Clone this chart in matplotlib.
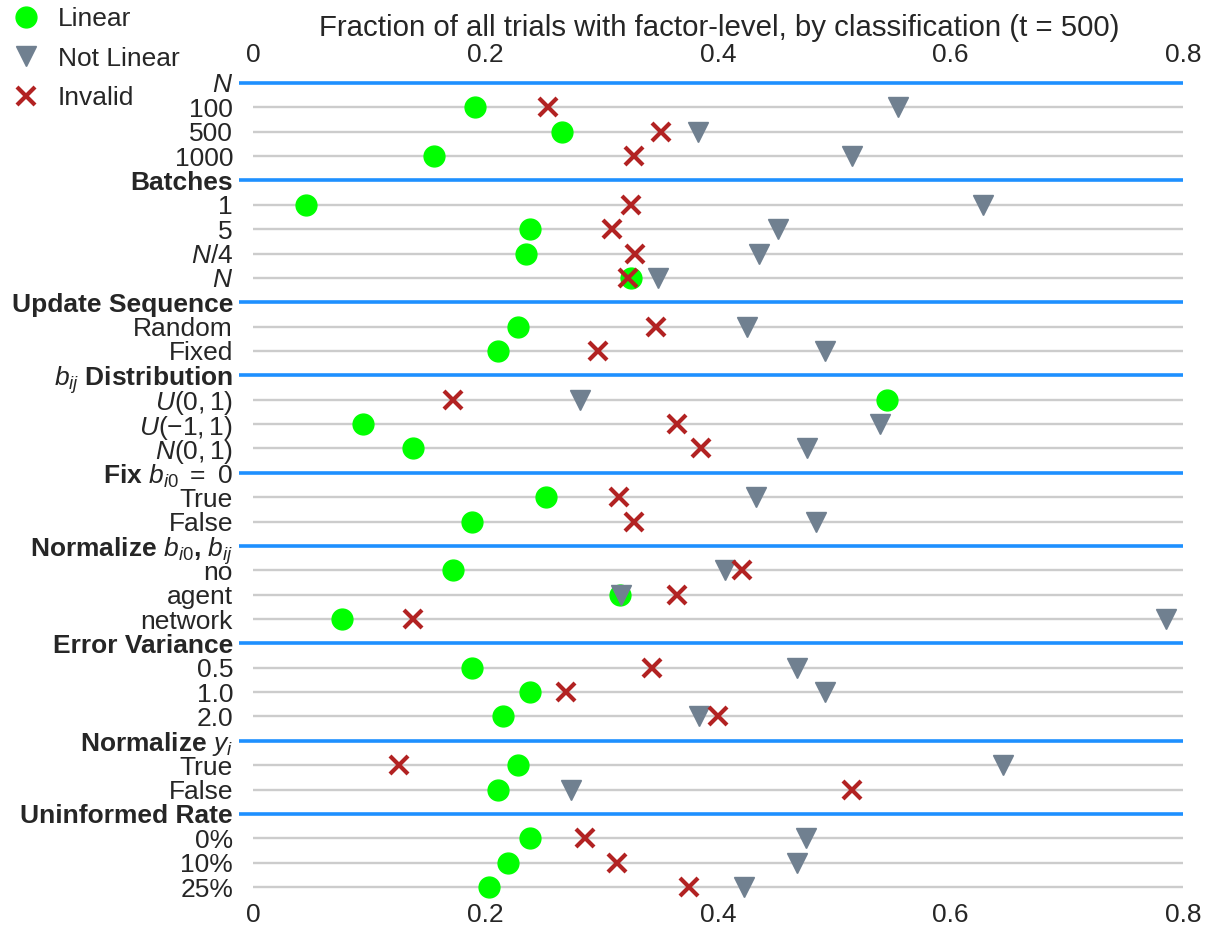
import matplotlib
matplotlib.use('Agg')
import matplotlib.pyplot as plt
from matplotlib.lines import Line2D
import numpy as np

factors = [r'$N$', 'Batches', 'Update Sequence', r'$b_{ij}$ Distribution',
           r'Fix $b_{i0}\ =\ 0$', r'Normalize $b_{i0}$, $b_{ij}$', 'Error Variance',
           r'Normalize $y_i$', 'Uninformed Rate']
levels = [['100', '500', '1000'],
          ['1', '5', r'$N/4$', r'$N$'],
          ['Random', 'Fixed'],
          [r'$U(0, 1)$', r'$U(-1, 1)$', r'$N(0, 1)$'],
          ['True', 'False'],
          ['no', 'agent', 'network'],
          ['0.5', '1.0', '2.0'],
          ['True', 'False'],
          ['0%', '10%', '25%']]

linear = [0.191, 0.266, 0.156,
          0.046, 0.238, 0.235, 0.325,
          0.228, 0.211,
          0.545, 0.095, 0.138,
          0.252, 0.188,
          0.172, 0.316, 0.077,
          0.188, 0.238, 0.215,
          0.228, 0.211,
          0.238, 0.219, 0.203]
not_linear = [0.555, 0.383, 0.515,
              0.628, 0.452, 0.435, 0.348,
              0.425, 0.492,
              0.281, 0.539, 0.477,
              0.433, 0.484,
              0.406, 0.317, 0.785,
              0.468, 0.492, 0.384,
              0.645, 0.274,
              0.476, 0.468, 0.422]
invalid = [0.254, 0.351, 0.328,
           0.325, 0.309, 0.329, 0.323,
           0.347, 0.297,
           0.172, 0.365, 0.385,
           0.315, 0.328,
           0.421, 0.365, 0.138,
           0.343, 0.269, 0.400,
           0.126, 0.515,
           0.286, 0.313, 0.375]

xticks = [0, 0.2, 0.4, 0.6, 0.8]
xticklabels = ['0', '0.2', '0.4', '0.6', '0.8']

plt.rcParams['font.family'] = ['Liberation Sans', 'DejaVu Sans']
plt.rcParams['mathtext.fontset'] = 'custom'
plt.rcParams['mathtext.rm'] = 'Liberation Sans'
plt.rcParams['mathtext.it'] = 'Liberation Sans:italic'
plt.rcParams['mathtext.bf'] = 'Liberation Sans:bold'

txt = '#262626'
c_lin = '#00ff00'
c_nl = '#708090'
c_inv = '#b22222'
c_head = '#1e90ff'
c_row = '#cccccc'
fs = 19

# build row order: header then its levels
labels, is_head = [], []
for f, lv in zip(factors, levels):
    labels.append(f)
    is_head.append(True)
    for l in lv:
        labels.append(l)
        is_head.append(False)
ypos = np.arange(len(labels))
head_y = ypos[np.array(is_head)]
level_y = ypos[~np.array(is_head)]

fig = plt.figure(figsize=(12.11, 9.38), dpi=100)
W, H = 1211, 938
left, right = 239 / W, 1183 / W
top, bottom = 1 - 70.8 / H, 1 - 899.2 / H
ax = fig.add_axes([left, bottom, right - left, top - bottom])

xmin = -0.012
ax.hlines(level_y, 0, 0.8, color=c_row, linewidth=1.7, zorder=1)
ax.hlines(head_y, xmin, 0.8, color=c_head, linewidth=2.6, zorder=1)

ax.plot(linear, level_y, 'o', color=c_lin, markersize=15, linestyle='none', zorder=3)
ax.plot(not_linear, level_y, 'v', color=c_nl, markersize=15, linestyle='none', zorder=4)
ax.plot(invalid, level_y, 'x', color=c_inv, markersize=13, markeredgewidth=3,
        linestyle='none', zorder=5)

ax.set_xlim(xmin, 0.8)
ax.set_ylim(len(labels) - 0.5, -0.5)
ax.set_xticks(xticks)
ax.set_xticklabels(xticklabels)
ax.set_yticks(ypos)
ax.set_yticklabels(labels)
for t, h in zip(ax.get_yticklabels(), is_head):
    if h:
        t.set_fontweight('bold')
ax.tick_params(axis='x', labeltop=True, labelbottom=True, length=0, pad=2.5,
               labelsize=fs, labelcolor=txt)
ax.tick_params(axis='y', length=0, pad=4.3, labelsize=fs, labelcolor=txt)
for s in ax.spines.values():
    s.set_visible(False)

fig.text(719 / W, 1 - 28 / H,
         'Fraction of all trials with factor-level, by classification (t = 500)',
         ha='center', va='center', fontsize=21.2, color=txt)

handles = [Line2D([], [], marker='o', color=c_lin, linestyle='none', markersize=15),
           Line2D([], [], marker='v', color=c_nl, linestyle='none', markersize=15),
           Line2D([], [], marker='x', color=c_inv, linestyle='none', markersize=13,
                  markeredgewidth=3)]
leg = fig.legend(handles, ['Linear', 'Not Linear', 'Invalid'], loc='upper left',
                 bbox_to_anchor=(0.005, 0.997), frameon=False, fontsize=fs,
                 handlelength=1.2, handletextpad=0.6, labelspacing=0.6,
                 borderaxespad=0.0, borderpad=0.15)
for t in leg.get_texts():
    t.set_color(txt)

fig.savefig('out.png', dpi=100, facecolor='white')
